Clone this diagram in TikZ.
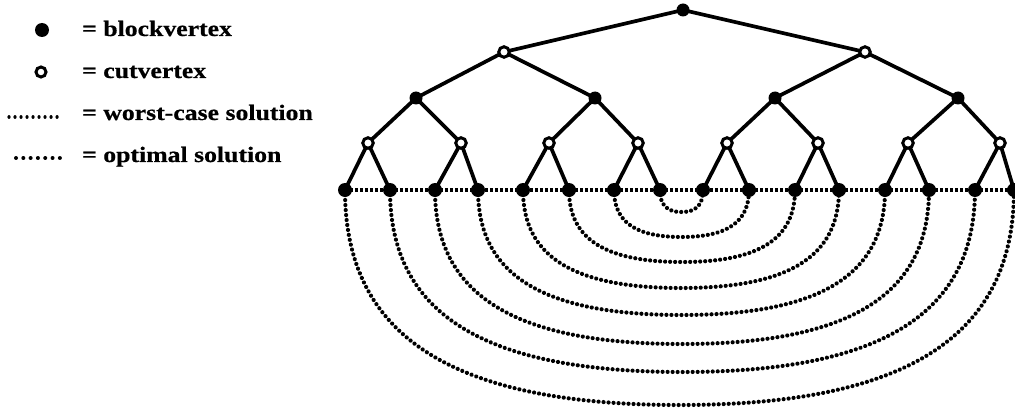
\documentclass[tikz,border=0pt]{standalone}
\usepackage{fontspec}
\newfontfamily\legfont{Liberation Serif}[FakeStretch=1.17,FakeBold=0.6]
\pgfdeclarelayer{background}
\pgfsetlayers{background,main}
\tikzset{
  blk/.style={circle,fill=black,inner sep=0pt,minimum size=13pt},
  leafv/.style={circle,fill=black,inner sep=0pt,minimum size=14pt},
  cut/.style={circle,draw=black,fill=white,line width=3pt,inner sep=0pt,minimum size=10.5pt},
  tedge/.style={line width=3.7pt},
  worst/.style={line width=3.8pt,dash pattern=on 3.4pt off 1.6pt},
  opt/.style={line width=4.2pt,line cap=round,dash pattern=on 0.01pt off 5pt},
  legworst/.style={line width=3.2pt,line cap=round,dash pattern=on 0.01pt off 6pt},
  legopt/.style={line width=4pt,line cap=round,dash pattern=on 0.01pt off 7.3pt},
  legtext/.style={anchor=base west,inner sep=0pt,font=\legfont\bfseries\fontsize{22}{23}\selectfont}
}
\begin{document}
\begin{tikzpicture}[x=1pt,y=-1pt]
\useasboundingbox (0,0) rectangle (1015,409);
% legend
\node[blk,minimum size=14pt] (lb) at (42,30) {};
\node[legtext] (tb) at (82,36) {= blockvertex};
\node[cut,minimum size=10pt] (lc) at (41,72) {};
\node[legtext] (tc) at (82,78) {= cutvertex};
\coordinate (w1) at (9,117);
\coordinate (w2) at (63,117);
\draw[legworst] (w1) -- (w2);
\node[legtext] (tw) at (82,120) {= worst-case solution};
\coordinate (o1) at (16,158);
\coordinate (o2) at (67,158);
\draw[legopt] (o1) -- (o2);
\node[legtext] (to) at (82,162) {= optimal solution};
% tree
\node[blk] (r) at (683,10) {};
\node[cut] (a1) at (504,52) {};
\node[cut] (a2) at (865,52) {};
\node[blk] (b1) at (416,98) {};
\node[blk] (b2) at (595,98) {};
\node[blk] (b3) at (775,98) {};
\node[blk] (b4) at (958,98) {};
\foreach \x [count=\i] in {368,461,549,638,727,818,908,1000}
  \node[cut] (c\i) at (\x,143) {};
\foreach \x [count=\i from 0] in {345,390,435,478,523,569,614,660,703,749,795,839,885,929,975,1014}
  \node[leafv] (l\i) at (\x,190) {};
\begin{pgfonlayer}{background}
\draw[tedge] (r.center) -- (a1.center) (r.center) -- (a2.center);
\draw[tedge] (a1.center) -- (b1.center) (a1.center) -- (b2.center)
             (a2.center) -- (b3.center) (a2.center) -- (b4.center);
\draw[tedge] (b1.center) -- (c1.center) (b1.center) -- (c2.center)
             (b2.center) -- (c3.center) (b2.center) -- (c4.center)
             (b3.center) -- (c5.center) (b3.center) -- (c6.center)
             (b4.center) -- (c7.center) (b4.center) -- (c8.center);
\foreach \i [evaluate=\i as \a using int(2*\i-2), evaluate=\i as \b using int(2*\i-1)] in {1,...,8}
  \draw[tedge] (c\i.center) -- (l\a.center) (c\i.center) -- (l\b.center);
\draw[worst] (l0.center) -- (l15.center);
% optimal arcs: leaf i to leaf 15-i
\foreach \i/\xa/\xb/\yb in {0/345/1014/405, 1/390/975/372, 2/435/929/344, 3/478/885/315, 4/523/839/288, 5/569/795/262, 6/614/749/237, 7/660/703/212}{
  \pgfmathsetmacro{\j}{int(15-\i)}
  \pgfmathsetmacro{\xm}{(\xa+\xb)/2}
  \pgfmathsetmacro{\rx}{0.68*(\xb-\xa)/2}
  \pgfmathsetmacro{\ry}{0.68*(\yb-190)}
  \coordinate (m\i) at (\xm,\yb);
  \draw[opt] (l\i.center) .. controls +(0,\ry) and +(-\rx,0) .. (m\i)
             .. controls +(\rx,0) and +(0,\ry) .. (l\j.center);
}
\end{pgfonlayer}
\end{tikzpicture}
\end{document}
